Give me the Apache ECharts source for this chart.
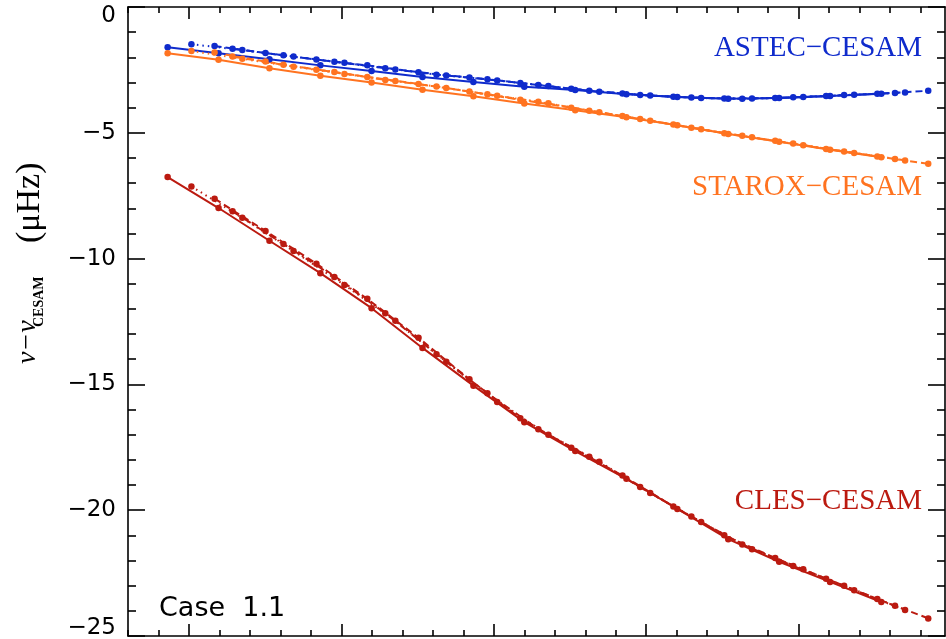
<!DOCTYPE html>
<html>
<head>
<meta charset="utf-8">
<script src="https://cdn.jsdelivr.net/npm/echarts@6/dist/echarts.min.js"></script>
<style>
  html, body { margin: 0; padding: 0; background: #fff; }
  #chart { width: 946px; height: 639px; }
</style>
</head>
<body>
<div id="chart"></div>
<script>
// Mode frequencies (muHz) for each degree l
const freqL0 = [1430, 1597, 1764, 1931, 2099, 2266, 2433, 2600, 2767, 2935, 3102, 3269, 3436, 3603, 3771];
const freqL1 = [1508, 1675, 1843, 2010, 2177, 2344, 2511, 2679, 2846, 3013, 3180, 3347, 3515, 3682, 3849];
const freqL2 = [1584, 1751, 1918, 2085, 2253, 2420, 2587, 2754, 2922, 3089, 3256, 3423, 3590, 3758, 3925];
const freqL3 = [1643, 1810, 1977, 2144, 2312, 2479, 2646, 2813, 2980, 3148, 3315, 3482, 3649, 3816];

// Frequency differences relative to CESAM (muHz)
const astecL0 = [-1.60, -1.84, -2.08, -2.32, -2.54, -2.78, -2.98, -3.17, -3.30, -3.47, -3.58, -3.65, -3.62, -3.54, -3.45];
const astecL1 = [-1.48, -1.71, -1.97, -2.22, -2.48, -2.72, -2.92, -3.14, -3.37, -3.52, -3.62, -3.64, -3.58, -3.49, -3.40];
const astecL2 = [-1.55, -1.83, -2.09, -2.32, -2.59, -2.80, -3.02, -3.25, -3.44, -3.57, -3.64, -3.62, -3.54, -3.45, -3.33];
const astecL3 = [-1.66, -1.92, -2.18, -2.43, -2.69, -2.87, -3.10, -3.33, -3.50, -3.60, -3.65, -3.59, -3.50, -3.42];

const staroxL0 = [-1.84, -2.10, -2.43, -2.73, -3.00, -3.29, -3.55, -3.84, -4.10, -4.38, -4.70, -5.05, -5.36, -5.67, -5.97];
const staroxL1 = [-1.75, -2.06, -2.37, -2.66, -2.94, -3.22, -3.53, -3.83, -4.18, -4.52, -4.86, -5.18, -5.49, -5.80, -6.10];
const staroxL2 = [-1.81, -2.17, -2.49, -2.78, -3.06, -3.36, -3.69, -4.00, -4.33, -4.67, -5.02, -5.32, -5.64, -5.94, -6.23];
const staroxL3 = [-1.97, -2.30, -2.58, -2.90, -3.16, -3.47, -3.77, -4.12, -4.45, -4.80, -5.12, -5.43, -5.74, -6.04];

const clesL0 = [-6.76, -7.99, -9.29, -10.58, -11.97, -13.55, -15.05, -16.50, -17.65, -18.75, -19.95, -21.15, -22.05, -22.85, -23.65];
const clesL1 = [-7.13, -8.38, -9.70, -11.05, -12.47, -14.10, -15.70, -17.00, -18.07, -19.32, -20.47, -21.55, -22.35, -23.18, -23.97];
const clesL2 = [-7.62, -8.90, -10.20, -11.60, -13.15, -14.80, -16.35, -17.52, -18.62, -19.85, -21.00, -21.90, -22.72, -23.53, -24.30];
const clesL3 = [-8.12, -9.42, -10.73, -12.17, -13.80, -15.35, -16.78, -17.88, -19.08, -20.25, -21.36, -22.22, -23.00, -23.80];

// Axis ticks
const yTicks = [0, -5, -10, -15, -20, -25];
const xMajorTicks = [1500, 2000, 2500, 3000, 3500];
const xMinorTicks = [1300, 1400, 1600, 1700, 1800, 1900, 2100, 2200, 2300, 2400, 2600, 2700, 2800, 2900, 3100, 3200, 3300, 3400, 3600, 3700, 3800, 3900];

const COLORS = { astec: '#0f2bcc', starox: '#ff7320', cles: '#bb1a10' };
const DASH = { l0: 'solid', l1: [1.5, 4], l2: [7, 4], l3: [7, 3, 1.5, 3] };

function pairs(fr, vals) { return vals.map((v, i) => [fr[i], v]); }

function mk(name, color, fr, vals, dash) {
  return {
    name: name, type: 'line', data: pairs(fr, vals),
    xAxisIndex: 0, yAxisIndex: 0,
    symbol: 'circle', symbolSize: 6.5,
    itemStyle: { color: color },
    lineStyle: { color: color, width: 2, type: dash },
    animation: false, silent: true, z: 3
  };
}

const series = [
  mk('ASTEC l=0', COLORS.astec, freqL0, astecL0, DASH.l0),
  mk('ASTEC l=1', COLORS.astec, freqL1, astecL1, DASH.l1),
  mk('ASTEC l=2', COLORS.astec, freqL2, astecL2, DASH.l2),
  mk('ASTEC l=3', COLORS.astec, freqL3, astecL3, DASH.l3),
  mk('STAROX l=0', COLORS.starox, freqL0, staroxL0, DASH.l0),
  mk('STAROX l=1', COLORS.starox, freqL1, staroxL1, DASH.l1),
  mk('STAROX l=2', COLORS.starox, freqL2, staroxL2, DASH.l2),
  mk('STAROX l=3', COLORS.starox, freqL3, staroxL3, DASH.l3),
  mk('CLES l=0', COLORS.cles, freqL0, clesL0, DASH.l0),
  mk('CLES l=1', COLORS.cles, freqL1, clesL1, DASH.l1),
  mk('CLES l=2', COLORS.cles, freqL2, clesL2, DASH.l2),
  mk('CLES l=3', COLORS.cles, freqL3, clesL3, DASH.l3)
];

const X_MIN = 1300, X_MAX = 3980;
const AXIS_COLOR = '#000';

function xAxisDef(pos, ticks, len, showLine) {
  return {
    type: 'value', position: pos, min: X_MIN, max: X_MAX,
    axisLine: { show: showLine, onZero: false, lineStyle: { color: AXIS_COLOR, width: 1.6 } },
    axisTick: { show: true, inside: true, length: len, customValues: ticks, lineStyle: { color: AXIS_COLOR, width: 1.6 } },
    axisLabel: { show: false },
    splitLine: { show: false }
  };
}

// Tick labels at the ends of the axis are nudged inward so they stay on the page
function yLabel(v) {
  if (v === 0) return '{top|0}';
  if (v === -25) return '{bot|\u221225}';
  return '\u2212' + Math.abs(v);
}

function yAxisDef(pos, showLabel) {
  return {
    type: 'value', position: pos, min: -25, max: 0, interval: 5,
    axisLine: { show: true, onZero: false, lineStyle: { color: AXIS_COLOR, width: 1.6 } },
    axisTick: { show: true, inside: true, length: 17, lineStyle: { color: AXIS_COLOR, width: 1.6 } },
    minorTick: { show: true, splitNumber: 5, length: 8, lineStyle: { color: AXIS_COLOR, width: 1.6 } },
    axisLabel: {
      show: showLabel, margin: 12, color: '#000', fontSize: 23,
      fontFamily: 'DejaVu Sans',
      formatter: yLabel,
      rich: {
        top: { fontSize: 23, fontFamily: 'DejaVu Sans', padding: [18, 0, 0, 0] },
        bot: { fontSize: 23, fontFamily: 'DejaVu Sans', padding: [0, 0, 16, 0] }
      }
    },
    splitLine: { show: false }
  };
}

const chart = echarts.init(document.getElementById('chart'), null, { renderer: 'canvas' });

chart.setOption({
  backgroundColor: '#fff',
  animation: false,
  grid: { left: 128, right: 1, top: 7, bottom: 3, containLabel: false, outerBoundsMode: 'none' },
  xAxis: [
    xAxisDef('bottom', xMinorTicks, 6, true),
    xAxisDef('bottom', xMajorTicks, 12, false),
    xAxisDef('top', xMinorTicks, 6, true),
    xAxisDef('top', xMajorTicks, 12, false)
  ],
  yAxis: [yAxisDef('left', true), yAxisDef('right', false)],
  series: series,
  graphic: [
    {
      type: 'text', right: 24, top: 34,
      style: { text: 'ASTEC\u2212CESAM', fill: COLORS.astec, font: '29px "Liberation Serif"' }
    },
    {
      type: 'text', right: 24, top: 173,
      style: { text: 'STAROX\u2212CESAM', fill: COLORS.starox, font: '29px "Liberation Serif"' }
    },
    {
      type: 'text', right: 24, top: 487,
      style: { text: 'CLES\u2212CESAM', fill: COLORS.cles, font: '29px "Liberation Serif"' }
    },
    {
      type: 'text', left: 159, top: 595,
      style: { text: 'Case  1.1', fill: '#000', font: '27px "DejaVu Sans"' }
    },
    {
      type: 'group', x: 0, y: 364, rotation: Math.PI / 2,
      children: [
        { type: 'text', x: 0, y: 42, style: { text: '\u03bd\u2212\u03bd', fill: '#000', font: 'italic 28px "Liberation Serif"', verticalAlign: 'bottom' } },
        { type: 'text', x: 37, y: 46, style: { text: 'CESAM', fill: '#000', font: 'bold 14px "Liberation Serif"', verticalAlign: 'bottom' } },
        { type: 'text', x: 121, y: 47, style: { text: '(\u03bcHz)', fill: '#000', font: '34px "Liberation Serif"', verticalAlign: 'bottom' } }
      ]
    }
  ]
});
</script>
</body>
</html>
